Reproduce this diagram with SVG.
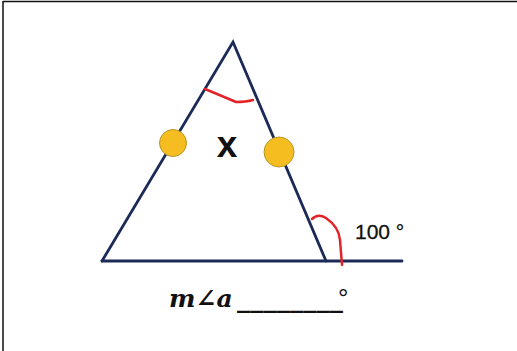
<svg xmlns="http://www.w3.org/2000/svg" width="517" height="351" viewBox="0 0 517 351">
<style>
.edge{stroke:#1b2a57;stroke-width:2.8;fill:none;stroke-linecap:round}
.arc{stroke:#e0242a;stroke-width:2.5;fill:none;stroke-linecap:round}
.dot{fill:#f5bd1f;stroke:#b8962a;stroke-width:1}
.lbl{font-family:"Liberation Sans",Arial,sans-serif;fill:#111}
</style>
<rect width="517" height="351" fill="#fff"/>
<path d="M3,1.5 H517 M3,1 V351" stroke="#111" stroke-width="1.5" fill="none"/>
<g id="connectors">
<path class="edge" d="M102,261 L233,42 L326,261"/>
<path class="edge" d="M102,261 H402"/>
</g>
<g id="angle-marks">
<path class="arc" d="M205,89 Q222,96 236,102 Q246,102 253,100"/>
<path class="arc" d="M312,219 Q318,213 326,218 Q339,227 340,240 L342,265"/>
</g>
<g id="dot-left"><circle class="dot" cx="173" cy="143" r="13.5"/></g>
<g id="dot-right"><circle class="dot" cx="279" cy="152" r="15"/></g>
<g id="label-x"><text class="lbl" x="227" y="157" font-size="37" font-weight="bold" text-anchor="middle">x</text></g>
<g id="label-100"><text class="lbl" x="355" y="239" font-size="21" stroke="#111" stroke-width="0.3">100 °</text></g>
<g id="label-ma">
<text x="169" y="307" font-family="'DejaVu Serif','Liberation Serif',serif" font-size="25" font-style="italic" font-weight="bold" fill="#111">m∠a</text>
<text x="237" y="307" font-family="'DejaVu Serif','Liberation Serif',serif" font-size="25" font-weight="bold" fill="#111" textLength="106" lengthAdjust="spacingAndGlyphs">________</text>
<text x="338" y="307" class="lbl" font-size="26">°</text>
</g>
</svg>
